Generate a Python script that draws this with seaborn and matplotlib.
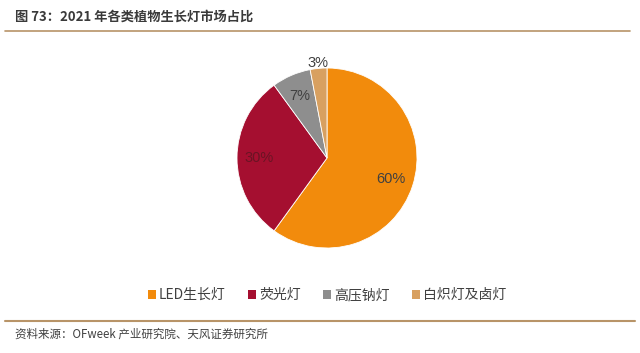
import matplotlib
matplotlib.use("Agg")
import matplotlib.pyplot as plt
import seaborn as sns
from matplotlib.lines import Line2D
from matplotlib.patches import Patch

categories = ["LED生长灯", "荧光灯", "高压钠灯", "白炽灯及卤灯"]
shares = [60, 30, 7, 3]
title = "图 73：2021 年各类植物生长灯市场占比"
source = "资料来源：OFweek 产业研究院、天风证券研究所"

sns.set_theme(style="white")
plt.rcParams['font.family'] = ['Noto Sans CJK SC', 'DejaVu Sans']

colors = sns.color_palette(["#F28B0C", "#A50F30", "#8E8E8E", "#D8A060"])

W, H = 640, 353
fig = plt.figure(figsize=(W / 100, H / 100), dpi=100)
fig.patch.set_facecolor("white")

# pie axes: center (327,158), radius ~90 px
r = 90
cx, cy = 327, 158
ax = fig.add_axes([(cx - r) / W, 1 - (cy + r) / H, 2 * r / W, 2 * r / H])
wedges, texts, autotexts = ax.pie(
    shares, colors=colors, startangle=90, counterclock=False,
    autopct=lambda p: f"{p:.0f}%", pctdistance=0.75,
    wedgeprops=dict(linewidth=0.6, edgecolor="white"),
    textprops=dict(fontsize=10.5, color="#404040", family=['Liberation Sans', 'DejaVu Sans']),
)
ax.set_xlim(-1, 1)
ax.set_ylim(-1, 1)
ax.set_aspect("equal")
# move the small 3% label outside the wedge
x, y = autotexts[3].get_position()
autotexts[3].set_position((x * 1.42, y * 1.42))
autotexts[1].set_color("#6a1424")

# legend
handles = [Patch(facecolor=c, edgecolor="none") for c in colors]
fig.legend(handles, categories, loc="center", bbox_to_anchor=(327 / W, 1 - 295 / H),
           ncol=4, frameon=False, handlelength=0.6, handleheight=0.6,
           handletextpad=0.2, columnspacing=1.6,
           prop=dict(family=['Noto Sans CJK SC', 'DejaVu Sans'], size=10))
for t in fig.legends[0].get_texts():
    t.set_color("#404040")

# title & lines
fig.text(15 / W, 1 - 17 / H, title, fontsize=9.5, fontweight="bold", color="#3a3a3a",
         va="center", ha="left")
line_color = "#B89468"
fig.add_artist(Line2D([5 / W, 630 / W], [1 - 31 / H, 1 - 31 / H], color=line_color, lw=1.2))
fig.add_artist(Line2D([5 / W, 635 / W], [1 - 321 / H, 1 - 321 / H], color=line_color, lw=1.5))
fig.text(15 / W, 1 - 334 / H, source, fontsize=8.3, color="#404040", va="center", ha="left")

fig.savefig("out.png", dpi=100, facecolor="white")
